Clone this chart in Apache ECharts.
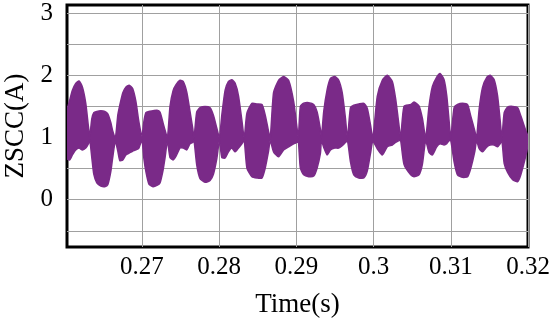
<!DOCTYPE html>
<html lang="en">
<head>
<meta charset="UTF-8">
<title>ZSCC</title>
<style>
  html, body { margin: 0; padding: 0; background: #fff; }
  #card { width: 550px; height: 322px; }
</style>
</head>
<body>
<div id="card"></div>
<script src="https://cdn.jsdelivr.net/npm/echarts@6/dist/echarts.min.js"></script>
<script>
// time (s) and the upper / lower envelope of the ZSCC band (A)
var timeS = [
  0.26032, 0.26065, 0.26100, 0.26143, 0.26186, 0.26230, 0.26273, 0.26308, 0.26325,
  0.26351, 0.26377, 0.26416, 0.26468, 0.26519, 0.26558, 0.26597, 0.26623, 0.26656,
  0.26688, 0.26714, 0.26753, 0.26792, 0.26835, 0.26879, 0.26922, 0.26961, 0.27000,
  0.27026, 0.27052, 0.27091, 0.27143, 0.27195, 0.27234, 0.27273, 0.27299, 0.27331,
  0.27364, 0.27403, 0.27442, 0.27494, 0.27536, 0.27581, 0.27623, 0.27658, 0.27675,
  0.27710, 0.27753, 0.27818, 0.27883, 0.27926, 0.27970, 0.28004,
  0.28035, 0.28078, 0.28121, 0.28165, 0.28208, 0.28251, 0.28295, 0.28325,
  0.28360, 0.28425, 0.28490, 0.28555, 0.28597, 0.28640, 0.28662,
  0.28705, 0.28770, 0.28835, 0.28900, 0.28965, 0.29009, 0.29026,
  0.29052, 0.29095, 0.29160, 0.29225, 0.29269, 0.29312, 0.29325,
  0.29355, 0.29399, 0.29442, 0.29497, 0.29549, 0.29594, 0.29636, 0.29662,
  0.29701, 0.29744, 0.29809, 0.29874, 0.29918, 0.29961, 0.29991,
  0.30048, 0.30113, 0.30178, 0.30243, 0.30286, 0.30329, 0.30351,
  0.30394, 0.30481, 0.30523, 0.30588, 0.30632, 0.30675,
  0.30718, 0.30762, 0.30818, 0.30861, 0.30913, 0.30948, 0.30978, 0.31000,
  0.31043, 0.31087, 0.31152, 0.31217, 0.31260, 0.31312, 0.31334,
  0.31368, 0.31412, 0.31468, 0.31510, 0.31562, 0.31606, 0.31640, 0.31662,
  0.31692, 0.31736, 0.31801, 0.31866, 0.31909, 0.31974, 0.32000
];
var upperA = [
  1.44, 1.60, 1.76, 1.87, 1.91, 1.81, 1.55, 1.17, 1.02,
  1.30, 1.40, 1.42, 1.43, 1.42, 1.38, 1.24, 1.10, 0.99,
  1.36, 1.52, 1.72, 1.81, 1.84, 1.79, 1.58, 1.25, 1.02,
  1.26, 1.40, 1.42, 1.43, 1.44, 1.41, 1.24, 1.12, 1.00,
  1.50, 1.75, 1.85, 1.92, 1.90, 1.73, 1.42, 1.15, 1.00,
  1.41, 1.48, 1.50, 1.48, 1.36, 1.15, 1.00,
  1.36, 1.76, 1.90, 1.93, 1.87, 1.67, 1.27, 1.00,
  1.39, 1.55, 1.54, 1.53, 1.36, 1.10, 0.99,
  1.72, 1.92, 1.98, 1.92, 1.58, 1.15, 1.00,
  1.50, 1.55, 1.56, 1.53, 1.41, 1.13, 1.00,
  1.42, 1.77, 1.95, 1.98, 1.92, 1.72, 1.31, 1.00,
  1.48, 1.52, 1.54, 1.55, 1.47, 1.20, 0.99,
  1.66, 1.92, 2.00, 1.90, 1.62, 1.20, 1.00,
  1.50, 1.53, 1.57, 1.51, 1.31, 1.00,
  1.50, 1.82, 1.97, 2.03, 1.93, 1.67, 1.27, 1.00,
  1.48, 1.53, 1.55, 1.53, 1.34, 1.10, 0.99,
  1.46, 1.81, 1.97, 2.00, 1.93, 1.67, 1.27, 1.00,
  1.40, 1.49, 1.50, 1.48, 1.34, 1.10, 1.02
];
var lowerA = [
  0.66, 0.64, 0.72, 0.80, 0.83, 0.80, 0.83, 0.90, 0.96,
  0.68, 0.41, 0.27, 0.22, 0.21, 0.24, 0.45, 0.69, 0.94,
  0.78, 0.63, 0.64, 0.72, 0.75, 0.78, 0.80, 0.83, 0.96,
  0.66, 0.45, 0.25, 0.21, 0.23, 0.27, 0.47, 0.67, 0.94,
  0.68, 0.64, 0.70, 0.83, 0.83, 0.80, 0.90, 0.92, 0.95,
  0.56, 0.34, 0.28, 0.31, 0.41, 0.66, 0.95,
  0.68, 0.67, 0.77, 0.83, 0.77, 0.83, 0.90, 0.95,
  0.51, 0.37, 0.35, 0.35, 0.51, 0.78, 0.95,
  0.77, 0.69, 0.80, 0.85, 0.90, 0.92, 0.95,
  0.51, 0.40, 0.37, 0.38, 0.51, 0.75, 0.95,
  0.84, 0.72, 0.80, 0.83, 0.83, 0.87, 0.92, 0.95,
  0.61, 0.40, 0.35, 0.35, 0.46, 0.75, 0.94,
  0.82, 0.72, 0.85, 0.88, 0.92, 0.95, 0.95,
  0.57, 0.40, 0.37, 0.40, 0.57, 0.95,
  0.76, 0.72, 0.85, 0.90, 0.88, 0.90, 0.95, 0.95,
  0.61, 0.40, 0.36, 0.37, 0.51, 0.78, 0.95,
  0.82, 0.77, 0.85, 0.88, 0.88, 0.85, 0.90, 0.95,
  0.58, 0.44, 0.32, 0.29, 0.41, 0.72, 0.90
];
var xTicks = [0.27, 0.28, 0.29, 0.3, 0.31, 0.32];
var yGrid = [-0.5, 0, 0.5, 1, 1.5, 2, 2.5, 3];
var yLabels = [0, 1, 2, 3];

var purple = '#7a2a88';
var bandData = [];
for (var i = 0; i < timeS.length; i++) {
  bandData.push([timeS[i], upperA[i], lowerA[i]]);
}

// whole band as one polygon: upper edge left->right, lower edge back
function renderBand(params, api) {
  if (params.dataIndex !== 0) return;
  var pts = [];
  for (var j = 0; j < bandData.length; j++) pts.push(api.coord([bandData[j][0], bandData[j][1]]));
  for (var k = bandData.length - 1; k >= 0; k--) pts.push(api.coord([bandData[k][0], bandData[k][2]]));
  return {
    type: 'polygon',
    shape: { points: pts, smooth: 0.2 },
    style: { fill: purple, stroke: purple, lineWidth: 1.5, lineJoin: 'round' }
  };
}

var font = 'Liberation Serif, Times New Roman, serif';
var option = {
  backgroundColor: '#fff',
  animation: false,
  grid: {
    left: 67, right: 22, top: 5, bottom: 75,
    outerBoundsMode: 'none',
    containLabel: false,
    show: true, borderColor: '#000', borderWidth: 3, backgroundColor: 'transparent'
  },
  xAxis: {
    type: 'value',
    min: 0.2603, max: 0.32,
    name: 'Time(s)',
    nameLocation: 'middle',
    nameGap: 44,
    nameTextStyle: { fontFamily: font, fontSize: 27, color: '#000' },
    axisLine: { show: false },
    axisTick: { show: false, customValues: xTicks },
    axisLabel: { customValues: xTicks, fontFamily: font, fontSize: 25, color: '#000', margin: 8 },
    splitLine: { show: true, lineStyle: { color: '#a0a0a0', width: 1 } }
  },
  yAxis: {
    type: 'value',
    min: -0.76, max: 3.13,
    name: 'ZSCC(A)',
    nameLocation: 'middle',
    nameGap: 35,
    nameTextStyle: { fontFamily: font, fontSize: 27, color: '#000' },
    axisLine: { show: false },
    axisTick: { show: false, customValues: yGrid },
    axisLabel: { customValues: yLabels, fontFamily: font, fontSize: 25, color: '#000', margin: 14 },
    splitLine: { show: true, lineStyle: { color: '#a0a0a0', width: 1 } }
  },
  series: [{
    type: 'custom',
    renderItem: renderBand,
    encode: { x: 0, y: [1, 2] },
    data: bandData,
    clip: true,
    z: 3
  }]
};

var myChart = echarts.init(document.getElementById('card'));
myChart.setOption(option);
</script>
</body>
</html>
